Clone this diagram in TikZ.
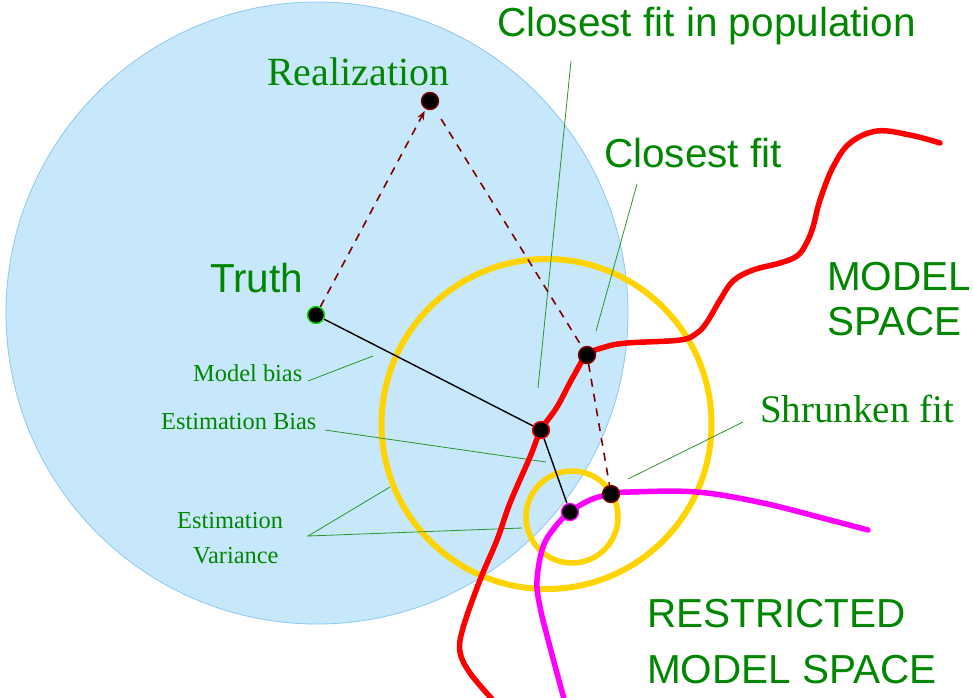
\documentclass[tikz,border=0pt]{standalone}
\usepackage{fontspec}
\setmainfont{Liberation Serif}
\newfontfamily\sansf{Liberation Sans}
\usetikzlibrary{arrows.meta}
\definecolor{txtgreen}{RGB}{0,134,0}
\definecolor{ptrgreen}{RGB}{40,150,40}
\definecolor{bluefill}{RGB}{199,231,250}
\definecolor{blueline}{RGB}{140,200,240}
\definecolor{gold}{RGB}{255,212,0}
\definecolor{darkred}{RGB}{128,0,0}
\definecolor{lime}{RGB}{0,230,0}
\definecolor{purered}{RGB}{255,0,0}
\definecolor{puremagenta}{RGB}{255,0,255}
\pgfdeclarelayer{bg}
\pgfsetlayers{bg,main}
\begin{document}
\begin{tikzpicture}[x=1pt,y=-1pt,
  dot/.style={circle, fill=black, inner sep=0pt, minimum size=17pt, line width=1.4pt},
  sanslab/.style={anchor=base west, inner sep=0pt, text=txtgreen, font=\sansf\fontsize{40.5}{48}\selectfont},
  seriflab/.style={anchor=base west, inner sep=0pt, text=txtgreen, font=\fontsize{40}{48}\selectfont},
  smalllab/.style={anchor=base west, inner sep=0pt, text=txtgreen, font=\fontsize{24.4}{29}\selectfont},
  pointer/.style={draw=ptrgreen, line width=0.8pt},
  dashline/.style={draw=darkred, line width=1.6pt, dash pattern=on 8pt off 7pt},
  solidline/.style={draw=black, line width=1.4pt},
  curve/.style={line width=5.5pt, line cap=round, line join=round}
]
\useasboundingbox (0,0) rectangle (973,697);

% dots
\node[dot, draw=lime] (truth) at (316,315) {};
\node[dot, draw=darkred] (real) at (430,101) {};
\node[dot, draw=purered] (cpop) at (541,430) {};
\node[dot, draw=darkred] (cfit) at (587,355) {};
\node[dot, draw=darkred] (sfit) at (611,494) {};
\node[dot, draw=puremagenta] (mdot) at (570,512) {};

% labels
\node[seriflab] (lreal) at (267,85) {Realization};
\node[sanslab] (ltruth) at (210,292) {Truth};
\node[sanslab] (lcpop) at (497,36) {Closest fit in population};
\node[sanslab] (lcfit) at (604,167) {Closest fit};
\node[sanslab] (lms1) at (827,290) {MODEL};
\node[sanslab] (lms2) at (827,335) {SPACE};
\node[seriflab, font=\fontsize{39}{46}\selectfont] (lsfit) at (760,422) {Shrunken fit};
\node[sanslab] (lrms1) at (647,627) {RESTRICTED};
\node[sanslab] (lrms2) at (647,683) {MODEL SPACE};
\node[smalllab] (lmb) at (193,381) {Model bias};
\node[smalllab] (leb) at (161,429) {Estimation Bias};
\node[smalllab] (lev1) at (177,528) {Estimation};
\node[smalllab] (lev2) at (193,563) {Variance};

% pointer end points
\coordinate (pcpopA) at (571,61);
\coordinate (pcpopB) at (538,388);
\coordinate (pcfitA) at (637,184);
\coordinate (pcfitB) at (596,331);
\coordinate (psfitA) at (743,422);
\coordinate (psfitB) at (628,479);
\coordinate (pmbA) at (308,381);
\coordinate (pmbB) at (373,356);
\coordinate (pebA) at (325,430);
\coordinate (pebB) at (546,462);
\coordinate (pevA) at (308,536);
\coordinate (pevB) at (390,487);
\coordinate (pevC) at (522,528);

\begin{pgfonlayer}{bg}
  \fill[bluefill] (317,313) circle[radius=311pt];
  \draw[blueline, line width=0.8pt] (317,313) circle[radius=311pt];
  \draw[gold, line width=6pt] (546.5,424) circle[radius=165pt];
  \draw[gold, line width=5.5pt] (572,517) circle[radius=46pt];

  \draw[pointer] (pcpopA) -- (pcpopB);
  \draw[pointer] (pcfitA) -- (pcfitB);
  \draw[pointer] (psfitA) -- (psfitB);
  \draw[pointer] (pmbA) -- (pmbB);
  \draw[pointer] (pebA) -- (pebB);
  \draw[pointer] (pevB) -- (pevA) -- (pevC);

  \draw[dashline, -{Stealth[length=9pt,width=7pt]}, shorten >=2pt] (truth) -- (real);
  \draw[dashline, shorten <=12pt] (real) -- (cfit);
  \draw[dashline] (cfit) -- (sfit);
  \draw[solidline] (truth) -- (cpop) -- (mdot);

  \draw[curve, purered] plot[smooth, tension=0.6] coordinates {
    (492,699) (470,673) (460,652) (463,628) (480,580) (497,540) (510,503)
    (530,457) (541,430) (557,407) (573,377) (587,355) (605,347) (627,343)
    (680,340) (697,333) (707,322) (720,300) (733,281) (753,270) (780,263)
    (797,256) (806,244) (813,227) (820,200) (833,167) (850,143) (877,131)
    (910,135) (940,143)};
  \draw[curve, puremagenta] plot[smooth, tension=0.6] coordinates {
    (564,699) (550,647) (540,607) (537,580) (543,547) (555,527) (570,512)
    (590,500) (611,494) (630,492) (697,492) (763,503) (830,520) (868,530)};
\end{pgfonlayer}
\end{tikzpicture}
\end{document}
